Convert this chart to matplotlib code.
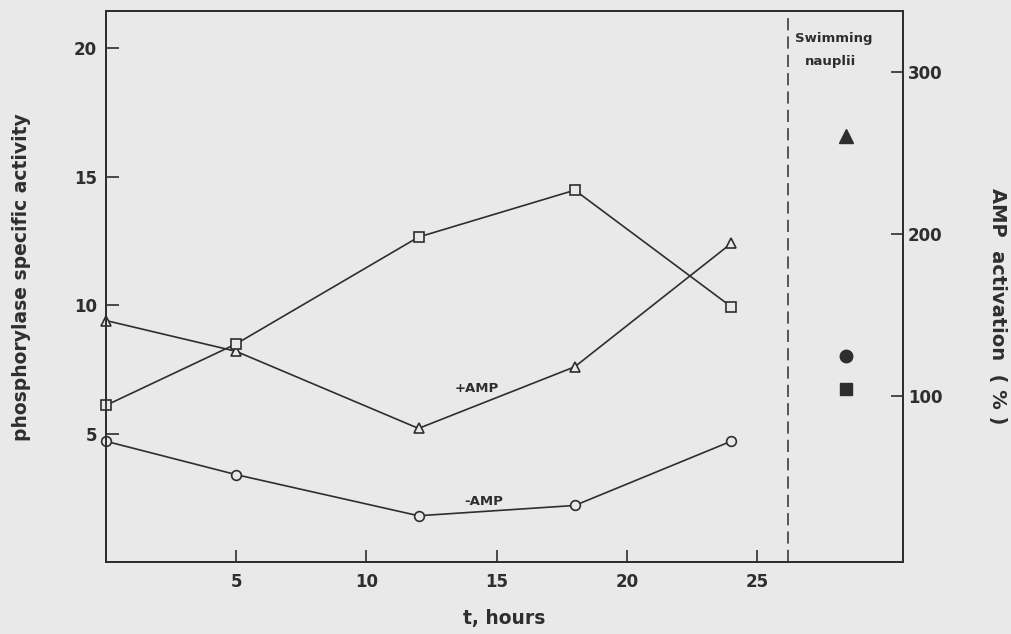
import matplotlib.pyplot as plt

# phosphorylase time course (embryos) and swimming nauplii
hours = [0, 5, 12, 18, 24]
plus_amp = [9.4, 8.2, 5.2, 7.6, 12.4]        # open triangles, left axis
minus_amp = [4.7, 3.4, 1.8, 2.2, 4.7]        # open circles, left axis
activation = [94, 132, 198, 227, 155]        # open squares, right axis (%)

nauplii_t = 28.4
nauplii_plus = 16.6
nauplii_minus = 8.0
nauplii_activation = 104
stage_line = 26.2

BG = "#e9e9e9"
INK = "#2e2e2e"

plt.rcParams["font.family"] = ["DejaVu Sans"]
plt.rcParams["font.weight"] = "bold"
plt.rcParams["axes.labelweight"] = "bold"

fig = plt.figure(figsize=(10.12, 6.34), dpi=100, facecolor=BG)
ax = fig.add_axes([0.1047, 0.1136, 0.7876, 0.869], facecolor=BG)
ax2 = ax.twinx()

line_kw = dict(color=INK, lw=1.2, mfc=BG, mec=INK, mew=1.2, clip_on=False)
ax.plot(hours, plus_amp, marker="^", ms=7, **line_kw)
ax.plot(hours, minus_amp, marker="o", ms=7, **line_kw)
ax2.plot(hours, activation, marker="s", ms=6.5, **line_kw)

ax.plot(nauplii_t, nauplii_plus, marker="^", ms=10, color=INK, ls="none")
ax.plot(nauplii_t, nauplii_minus, marker="o", ms=9, color=INK, ls="none")
ax2.plot(nauplii_t, nauplii_activation, marker="s", ms=8, color=INK, ls="none")

ax.axvline(stage_line, color=INK, lw=1.1, ls=(0, (8, 4)))

ax.set_xlim(0, 30.6)
ax.set_ylim(0, 21.45)
ax2.set_ylim(-2.8, 337.7)
ax.set_xticks([5, 10, 15, 20, 25])
ax.set_yticks([5, 10, 15, 20])
ax2.set_yticks([100, 200, 300])

for a in (ax, ax2):
    a.tick_params(direction="in", length=9, width=1.2, labelsize=12,
                  colors=INK)
    for s in a.spines.values():
        s.set_color(INK)
        s.set_linewidth(1.3)
ax.tick_params(axis="x", pad=8)
ax.tick_params(axis="y", pad=6.5)
ax2.tick_params(axis="y", pad=3.5)

ax.text(14.24, 6.75, "+AMP", fontsize=9.5, color=INK, ha="center", va="center")
ax.text(14.5, 2.35, "-AMP", fontsize=9.5, color=INK, ha="center", va="center")
ax.text(27.95, 20.37, "Swimming", fontsize=9.5, color=INK, ha="center", va="center")
ax.text(27.8, 19.47, "nauplii", fontsize=9.5, color=INK, ha="center", va="center")

ax.set_xlabel("t, hours", fontsize=13.5, color=INK, labelpad=13)
fig.text(22 / 1012, 1 - 277 / 634, "phosphorylase specific activity",
         fontsize=13.5, fontweight="bold", color=INK, rotation=90,
         ha="center", va="center")
fig.text(998 / 1012, 1 - 306 / 634, "AMP  activation  ( % )",
         fontsize=14, fontweight="bold", color=INK, rotation=-90,
         ha="center", va="center")

fig.savefig("out.png", dpi=100, facecolor=BG)
